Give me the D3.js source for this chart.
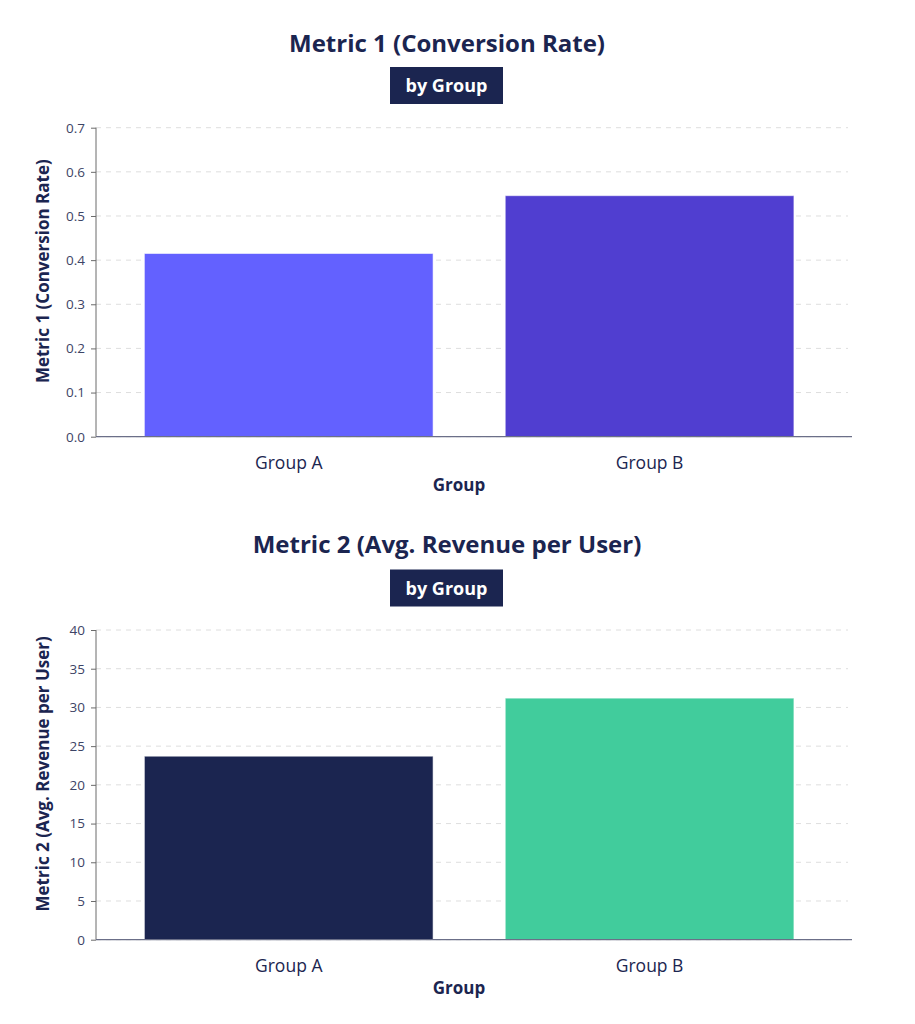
<!DOCTYPE html>
<html><head><meta charset="utf-8">
<script src="https://cdn.jsdelivr.net/npm/d3@7"></script>
<style>body{margin:0;background:#fff}svg{display:block}</style>
</head><body>
<svg id="c" width="915" height="1024"></svg>
<script>
const categories = ["Group A", "Group B"];
const metric1Values = [0.415, 0.546];
const metric2Values = [23.7, 31.2];
const metric1Ticks = [0, 0.1, 0.2, 0.3, 0.4, 0.5, 0.6, 0.7];
const metric2Ticks = [0, 5, 10, 15, 20, 25, 30, 35, 40];
const metric1Colors = ["#6361ff", "#503ed0"];
const metric2Colors = ["#1b2550", "#41cc9c"];

const NAVY = "#1b2550";
const FONT = "'Open Sans', 'Noto Sans', sans-serif";
const svg = d3.select("#c");

function panel(cfg){
  const g = svg.append("g");
  const left = 96, right = 852, top = cfg.top, bottom = cfg.bottom;
  g.append("text").attr("x", 447).attr("y", cfg.titleY).attr("text-anchor","middle")
    .attr("font-family", FONT).attr("font-weight", 700).attr("font-size", 24)
    .attr("fill", NAVY).text(cfg.title);
  g.append("rect").attr("x", 390).attr("y", cfg.badgeY).attr("width", 113).attr("height", 37).attr("fill", NAVY);
  g.append("text").attr("x", 446.5).attr("y", cfg.badgeY + 25).attr("text-anchor","middle")
    .attr("font-family", FONT).attr("font-weight", 700).attr("font-size", 18)
    .attr("fill", "#fff").text("by Group");

  const y = d3.scaleLinear().domain([0, cfg.max]).range([bottom, top]);
  const x = d3.scaleBand().domain(categories).range([108.3, 830]).paddingInner(0.2).paddingOuter(0.1);

  g.append("g").selectAll("line").data(cfg.ticks).join("line")
    .attr("x1", left).attr("x2", 848).attr("y1", d=>y(d)).attr("y2", d=>y(d))
    .attr("stroke", "#dedede").attr("stroke-width", 1).attr("stroke-dasharray", "5,5");

  g.append("g").selectAll("rect").data(cfg.values).join("rect")
    .attr("x", (d,i)=>x(categories[i])).attr("width", x.bandwidth())
    .attr("y", d=>y(d)).attr("height", d=>bottom - y(d))
    .attr("fill", (d,i)=>cfg.colors[i])
    .attr("stroke", "rgba(255,255,255,0.55)").attr("stroke-width", 1);

  const ya = g.append("g").attr("transform", `translate(${left},0)`)
    .call(d3.axisLeft(y).tickValues(cfg.ticks).tickFormat(cfg.fmt).tickSize(5).tickPadding(6));
  ya.select(".domain").attr("stroke", "#6b6b6b").attr("d", `M0,${top}V${bottom}`);
  ya.selectAll(".tick line").attr("stroke", "#6b6b6b");
  ya.selectAll(".tick text").attr("font-family", FONT).attr("font-size", 13.5).attr("fill", "#3d4466");

  const xa = g.append("g").attr("transform", `translate(0,${bottom})`)
    .call(d3.axisBottom(x).tickSize(0).tickPadding(20));
  xa.select(".domain").attr("stroke", "#6b6f88").attr("stroke-width", 1.2).attr("d", `M${left},0H${right}`);
  xa.selectAll(".tick text").attr("font-family", FONT).attr("font-size", 17.5).attr("fill", NAVY).attr("font-weight", 500);

  g.append("text").attr("x", 459).attr("y", bottom + 54).attr("text-anchor","middle")
    .attr("font-family", FONT).attr("font-weight", 700).attr("font-size", 17).attr("fill", NAVY).text("Group");

  g.append("text").attr("transform", `translate(48.5,${(top+bottom)/2 - 11}) rotate(-90)`).attr("text-anchor","middle")
    .attr("font-family", FONT).attr("font-weight", 700).attr("font-size", 17).attr("fill", NAVY).text(cfg.ylabel);
}

panel({top:127.7, bottom:436.7, max:0.7, ticks:metric1Ticks, values:metric1Values, colors:metric1Colors,
  fmt:d3.format(".1f"), title:"Metric 1 (Conversion Rate)", titleY:52, badgeY:67, ylabel:"Metric 1 (Conversion Rate)"});
panel({top:630, bottom:939.7, max:40, ticks:metric2Ticks, values:metric2Values, colors:metric2Colors,
  fmt:d3.format("d"), title:"Metric 2 (Avg. Revenue per User)", titleY:553, badgeY:569.5, ylabel:"Metric 2 (Avg. Revenue per User)"});
</script>
</body></html>
